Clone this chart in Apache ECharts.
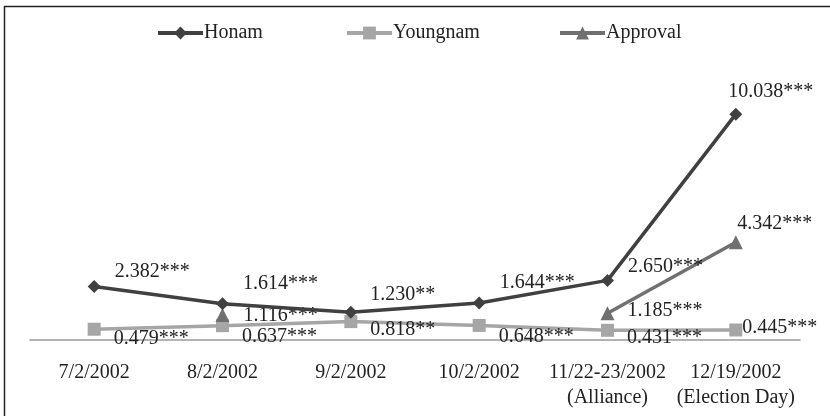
<!DOCTYPE html>
<html>
<head>
<meta charset="utf-8">
<script src="https://cdn.jsdelivr.net/npm/echarts@6/dist/echarts.min.js"></script>
<style>
  html, body { margin: 0; padding: 0; background: #fff; }
  #chart { width: 830px; height: 416px; }
</style>
</head>
<body>
<div id="chart"></div>
<script>
// Survey dates (x axis categories)
const categories = ['7/2/2002', '8/2/2002', '9/2/2002', '10/2/2002',
  '11/22-23/2002\n(Alliance)', '12/19/2002\n(Election Day)'];

// Odds ratios per date and their significance stars
const honam = [2.382, 1.614, 1.230, 1.644, 2.650, 10.038];
const honamStars = ['***', '***', '**', '***', '***', '***'];
const youngnam = [0.479, 0.637, 0.818, 0.648, 0.431, 0.445];
const youngnamStars = ['***', '***', '**', '***', '***', '***'];
const approval = [null, 1.116, null, null, 1.185, 4.342];
const approvalStars = ['', '***', '', '', '***', '***'];

// Label placement tweaks per point: [position, distance, dx, dy]
const honamLabelPos = [
  ['right', 14, 0, -15], ['right', 14, 0, -20], ['right', 13, 0, -18],
  ['right', 14, 0, -20], ['right', 14, 0, -14], ['top', 6, 35, 0]
];
const youngnamLabelPos = [
  ['right', 13, 0, 10], ['right', 13, 0, 11], ['right', 13, 0, 8],
  ['right', 13, 0, 11], ['right', 13, 0, 7], ['right', 0, 0, -2]
];
const approvalLabelPos = [
  null, ['right', 14, 0, 1], null, null, ['right', 13, 0, -3], ['top', 2, 39, 0]
];

const FONT = '"Liberation Serif", "DejaVu Serif", serif';
const labelText = { color: '#222', fontFamily: FONT, fontSize: 20 };

function buildData(values, stars, placement) {
  return values.map(function (v, i) {
    if (v === null) return null;
    const p = placement[i];
    return {
      value: v,
      label: Object.assign({
        show: true,
        position: p[0],
        distance: p[1],
        offset: [p[2], p[3]],
        formatter: v.toFixed(3) + stars[i]
      }, labelText)
    };
  });
}

const colors = { honam: '#404040', youngnam: '#a6a6a6', approval: '#707070' };

const chart = echarts.init(document.getElementById('chart'), null, { renderer: 'canvas' });

function legendAt(name, left) {
  return {
    data: [name],
    left: left,
    top: 18,
    itemWidth: 45,
    itemHeight: 16,
    itemGap: 0,
    lineStyle: { width: 4 },
    textStyle: { fontFamily: FONT, fontSize: 20, color: '#222', lineHeight: 20, padding: [0, 0, 0, -4] }
  };
}

chart.setOption({
  animation: false,
  backgroundColor: '#fff',
  graphic: [{
    type: 'rect',
    shape: { x: 4.5, y: 6.5, width: 900, height: 500 },
    style: { fill: 'none', stroke: '#222', lineWidth: 1.5 },
    z: 100
  }],
  legend: [
    legendAt('Honam', 151),
    legendAt('Youngnam', 340),
    legendAt('Approval', 553)
  ],
  grid: { left: 30, right: 30, top: 70, bottom: 76, containLabel: false },
  xAxis: {
    type: 'category',
    data: categories,
    boundaryGap: true,
    axisLine: { show: true, lineStyle: { color: '#9a9a9a', width: 1.5 } },
    axisTick: { show: false },
    axisLabel: {
      fontFamily: FONT, fontSize: 20, color: '#222',
      margin: 20, lineHeight: 25, interval: 0
    }
  },
  yAxis: {
    type: 'value', min: 0, max: 12,
    show: false, splitLine: { show: false }
  },
  series: [
    {
      name: 'Honam', type: 'line', z: 4,
      data: buildData(honam, honamStars, honamLabelPos),
      symbol: 'diamond', symbolSize: 13,
      lineStyle: { color: colors.honam, width: 3.5 },
      itemStyle: { color: colors.honam }
    },
    {
      name: 'Youngnam', type: 'line', z: 2,
      data: buildData(youngnam, youngnamStars, youngnamLabelPos),
      symbol: 'rect', symbolSize: 13,
      lineStyle: { color: colors.youngnam, width: 3.5 },
      itemStyle: { color: colors.youngnam }
    },
    {
      name: 'Approval', type: 'line', z: 3,
      data: buildData(approval, approvalStars, approvalLabelPos),
      connectNulls: false,
      symbol: 'triangle', symbolSize: 14,
      lineStyle: { color: colors.approval, width: 3.5 },
      itemStyle: { color: colors.approval }
    }
  ]
});
</script>
</body>
</html>
